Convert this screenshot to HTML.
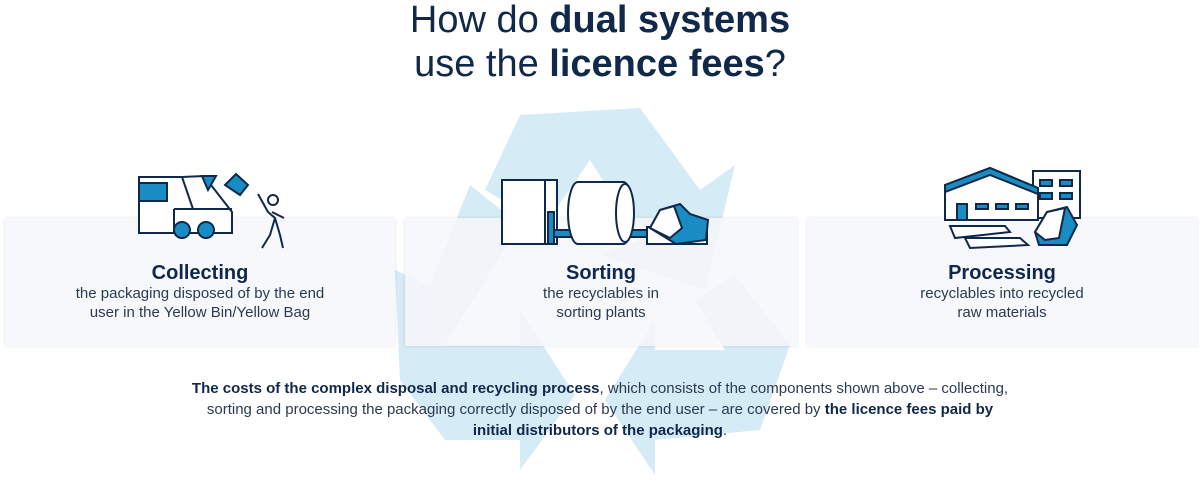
<!DOCTYPE html>
<html><head><style>
body{margin:0;width:1200px;height:482px;background:#fff;font-family:"Liberation Sans",sans-serif;position:relative;overflow:hidden;color:#10284a}
.t{position:absolute;left:0;width:1200px;text-align:center;font-size:38px;line-height:44px;color:#10284a;font-weight:normal}
.t b{font-weight:bold}
.card{position:absolute;top:218px;height:128px;background:rgba(246,247,250,0.85);box-shadow:0 0 3px rgba(0,0,0,0.12);text-align:center}
.card h3{margin:44px 0 0;font-size:20px;line-height:22px;font-weight:bold;color:#10284a}
.card p{margin:0;font-size:15px;line-height:19px;color:#2b3a52}
.bot{position:absolute;left:0;top:378px;width:1200px;text-align:center;font-size:15px;line-height:21px;color:#2b3a52}
.bot b{color:#10284a}
</style></head><body>
<svg style="position:absolute;left:0;top:0" width="1200" height="482">
<g fill="#d5ebf6">
<polygon points="520,115 640,108 700,190 735,165 705,290 600,255 640,240 590,160 545,225 485,190"/>
<polygon points="470,185 520,225 445,345 520,345 520,310 575,395 520,470 520,440 445,440 400,380 395,270 430,285"/>
<polygon points="735,275 790,345 760,430 655,440 655,475 605,400 655,320 655,350 725,350 695,300"/>
</g>
</svg>
<div class="t" style="top:-2px">How do <b>dual systems</b></div>
<div class="t" style="top:42px">use the <b>licence fees</b>?</div>
<div class="card" style="left:5px;width:390px"><h3>Collecting</h3><p>the packaging disposed of by the end<br>user in the Yellow Bin/Yellow Bag</p></div>
<div class="card" style="left:405px;width:392px"><h3>Sorting</h3><p>the recyclables in<br>sorting plants</p></div>
<div class="card" style="left:807px;width:390px"><h3>Processing</h3><p>recyclables into recycled<br>raw materials</p></div>
<svg style="position:absolute;left:0;top:0" width="1200" height="482" stroke="#10284a" stroke-width="2" fill="#fff">
<polygon points="139,177 182,177 204,176 232,212 232,233 139,233"/>
<rect x="139" y="183" width="28" height="18" fill="#1a8cc4"/>
<line x1="182" y1="177" x2="193" y2="209"/><line x1="174" y1="209" x2="232" y2="209"/><line x1="174" y1="209" x2="174" y2="233"/>
<polygon points="202,176 216,176 208,190" fill="#1a8cc4"/>
<circle cx="182" cy="230" r="8" fill="#1a8cc4"/><circle cx="206" cy="230" r="8" fill="#1a8cc4"/>
<polygon points="225,185 236,174 248,185 240,195" fill="#1a8cc4"/>
<circle cx="273" cy="200" r="5"/>
<polyline fill="none" points="258,194 268,212 275,218 270,235 262,248"/><polyline fill="none" points="275,218 280,235 283,248"/><polyline fill="none" points="272,212 284,218"/>
<rect x="502" y="180" width="55" height="64"/><rect x="548" y="212" width="6" height="32" fill="#1a8cc4"/>
<line x1="545" y1="180" x2="545" y2="244"/>
<rect x="554" y="230" width="100" height="7" fill="#1a8cc4"/>
<path d="M578,182 h45 a10,31 0 0 1 0,62 h-45 a10,31 0 0 1 0,-62z"/>
<ellipse cx="625" cy="213" rx="9" ry="29"/>
<rect x="647" y="227" width="60" height="17"/>
<path d="M650,228 l10,-18 20,-6 10,10 18,6 -2,20 -30,4z" fill="#1a8cc4"/>
<path d="M650,228 l10,-18 14,-4 8,22 -12,10z"/>
<rect x="1033" y="171" width="47" height="47"/>
<rect x="1040" y="180" width="12" height="6" fill="#1a8cc4"/><rect x="1060" y="180" width="12" height="6" fill="#1a8cc4"/>
<rect x="1040" y="193" width="12" height="6" fill="#1a8cc4"/><rect x="1060" y="193" width="12" height="6" fill="#1a8cc4"/>
<polygon points="945,185 990,168 1038,188 1038,220 945,220"/>
<polygon points="945,185 990,168 1038,188 1038,194 990,175 945,192" fill="#1a8cc4"/>
<rect x="957" y="204" width="10" height="16" fill="#1a8cc4"/>
<rect x="976" y="204" width="12" height="5" fill="#1a8cc4"/><rect x="996" y="204" width="12" height="5" fill="#1a8cc4"/><rect x="1016" y="204" width="12" height="5" fill="#1a8cc4"/>
<polygon points="950,226 1005,226 1010,232 955,238"/>
<polygon points="965,238 1020,238 1028,245 970,248"/>
<path d="M1035,232 l12,-20 20,-5 10,18 -10,20 -28,0z" fill="#1a8cc4"/>
<path d="M1035,232 l12,-20 18,-4 -6,30 -14,2z"/>
</svg>
<div class="bot"><b>The costs of the complex disposal and recycling process</b>, which consists of the components shown above – collecting,<br>sorting and processing the packaging correctly disposed of by the end user – are covered by <b>the licence fees paid by</b><br><b>initial distributors of the packaging</b>.</div>
</body></html>
